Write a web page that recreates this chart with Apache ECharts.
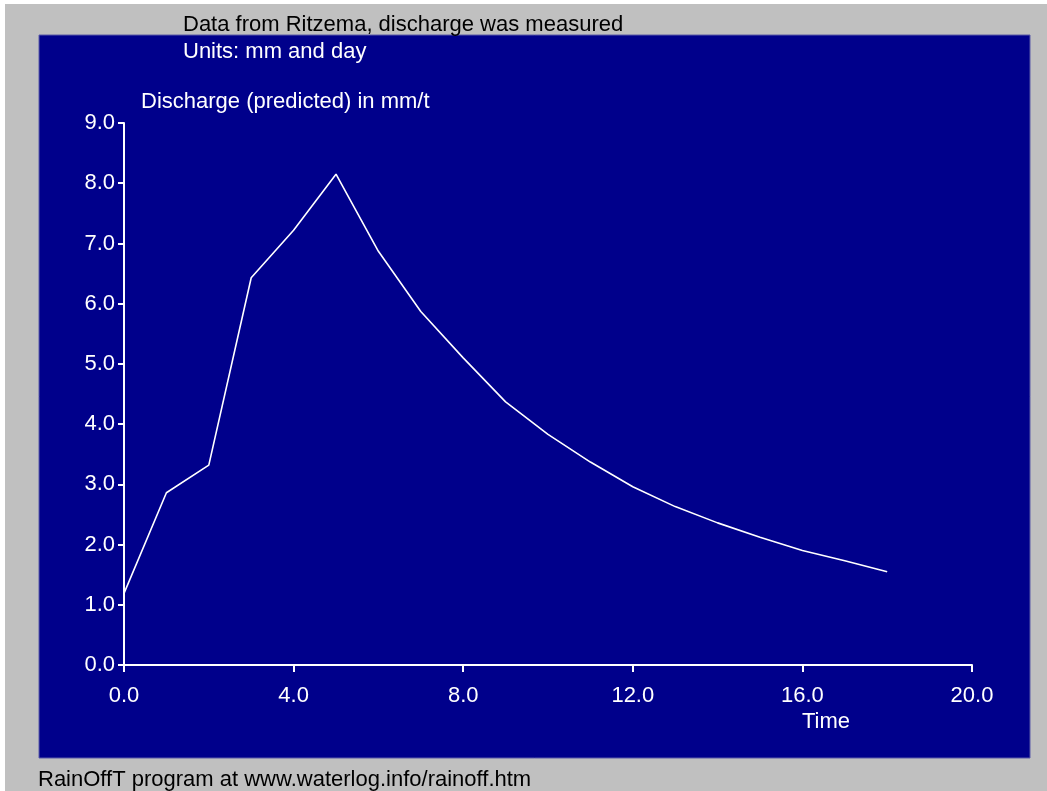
<!DOCTYPE html>
<html>
<head>
<meta charset="utf-8">
<script src="https://cdn.jsdelivr.net/npm/echarts@6/dist/echarts.min.js"></script>
<style>
html,body{margin:0;padding:0;background:#ffffff;}
#chart{position:absolute;left:0;top:0;width:1047px;height:791px;}
</style>
</head>
<body>
<div id="chart"></div>
<script>
// Data
const days = [0, 1, 2, 3, 4, 5, 6, 7, 8, 9, 10, 11, 12, 13, 14, 15, 16, 17, 18];
const discharge = [1.19, 2.86, 3.32, 6.43, 7.22, 8.15, 6.87, 5.87, 5.10, 4.37, 3.83, 3.37, 2.96, 2.63, 2.36, 2.12, 1.90, 1.73, 1.55];
const titleText = 'Data from Ritzema, discharge was measured';
const unitsText = 'Units: mm and day';
const yAxisTitle = 'Discharge (predicted) in mm/t';
const xAxisTitle = 'Time';
const footerText = 'RainOffT program at www.waterlog.info/rainoff.htm';

const FONT = '"Liberation Sans", Arial, sans-serif';
const chart = echarts.init(document.getElementById('chart'), null, {renderer: 'canvas'});

const seriesData = days.map((d, i) => [d, discharge[i]]);

chart.setOption({
  animation: false,
  backgroundColor: 'transparent',
  graphic: [
    {type: 'rect', z: -100, shape: {x: 5, y: 4, width: 1042, height: 787}, style: {fill: '#c0c0c0'}},
    {type: 'rect', z: -99, shape: {x: 39, y: 35, width: 991, height: 723}, style: {fill: '#00008b', stroke: '#5a5aa8', lineWidth: 1}},
    {type: 'text', z: 100, x: 183, y: 25, style: {text: titleText, fill: '#000000', font: '22px ' + FONT, textVerticalAlign: 'middle'}},
    {type: 'text', z: 100, x: 183, y: 52, style: {text: unitsText, fill: '#ffffff', font: '22px ' + FONT, textVerticalAlign: 'middle'}},
    {type: 'text', z: 100, x: 141, y: 102, style: {text: yAxisTitle, fill: '#ffffff', font: '22px ' + FONT, textVerticalAlign: 'middle'}},
    {type: 'text', z: 100, x: 826, y: 722, style: {text: xAxisTitle, fill: '#ffffff', font: '22px ' + FONT, textAlign: 'center', textVerticalAlign: 'middle'}},
    {type: 'text', z: 100, x: 38, y: 780, style: {text: footerText, fill: '#000000', font: '22px ' + FONT, textVerticalAlign: 'middle'}}
  ],
  grid: {left: 124, right: 75, top: 123, bottom: 126, containLabel: false},
  xAxis: {
    type: 'value', min: 0, max: 20, interval: 4,
    axisLine: {show: true, onZero: false, lineStyle: {color: '#ffffff', width: 2}},
    axisTick: {show: true, inside: false, length: 7, lineStyle: {color: '#ffffff', width: 2}},
    splitLine: {show: false},
    axisLabel: {color: '#ffffff', fontSize: 22, fontFamily: FONT, margin: 20, formatter: v => v.toFixed(1)}
  },
  yAxis: {
    type: 'value', min: 0, max: 9, interval: 1,
    axisLine: {show: true, onZero: false, lineStyle: {color: '#ffffff', width: 2}},
    axisTick: {show: true, inside: false, length: 6, lineStyle: {color: '#ffffff', width: 2}},
    splitLine: {show: false},
    axisLabel: {color: '#ffffff', fontSize: 22, fontFamily: FONT, margin: 9, formatter: v => v.toFixed(1)}
  },
  series: [{
    type: 'line',
    data: seriesData,
    showSymbol: false,
    lineStyle: {color: '#ffffff', width: 1.6},
    z: 5
  }]
});
</script>
</body>
</html>
